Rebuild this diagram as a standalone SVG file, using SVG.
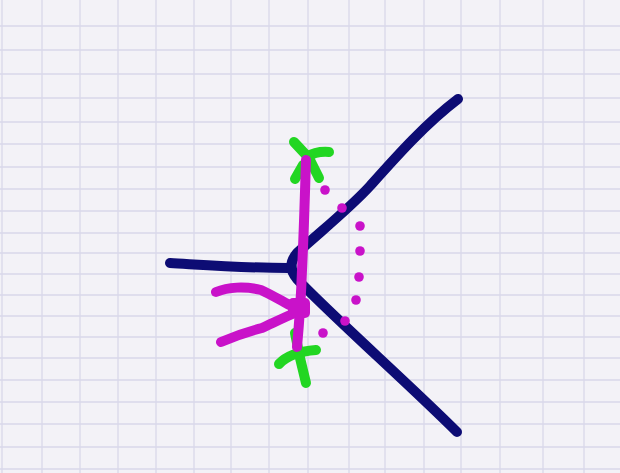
<svg xmlns="http://www.w3.org/2000/svg" width="620" height="473" viewBox="0 0 620 473">
<style>
.grid{stroke:#d9d8ea;stroke-width:1.3;fill:none}
.ink{fill:none;stroke-linecap:round;stroke-linejoin:round}
.navy{stroke:#0d0c74;stroke-width:10}
.green{stroke:#22d622;stroke-width:10}
.mag{stroke:#c912c9;stroke-width:10}
.dot{fill:#c912c9}
</style>
<rect width="620" height="473" fill="#f3f2f7"/>
<g id="grid" class="grid">
<path d="M2,0V473M42,0V473M80,0V473M118,0V473M156,0V473M194,0V473M231,0V473M269,0V473M308,0V473M349,0V473M385,0V473M424,0V473M461,0V473M500,0V473M543,0V473M584,0V473"/>
<path d="M0,26H620M0,50H620M0,74H620M0,98H620M0,122H620M0,144H620M0,167H620M0,189H620M0,211H620M0,233H620M0,253H620M0,274H620M0,295H620M0,316H620M0,337H620M0,358H620M0,380H620M0,402H620M0,424H620M0,447H620M0,469H620"/>
</g>
<g id="navy" class="ink navy">
<path d="M170,263 C205,265 245,268 288,268"/>
<path d="M458,99 C425,124 395,158 370,186 C350,208 320,232 297,253 Q286,266 297,279 C330,314 410,385 457,432"/>
</g>
<g id="green" class="ink green">
<path d="M294,142 L308,157"/>
<path d="M307,157 Q316,151 329,152"/>
<path d="M310,160 L319,178"/>
<path d="M303,165 L295,179"/>
<path d="M279,364 Q290,352 316,350"/>
<path d="M295,333 L300,358 L306,383"/>
</g>
<g id="magenta" class="ink mag">
<path d="M306,160 C305,190 304,230 302,270 C301,300 299,325 297,347"/>
<path d="M216,292 C228,287 245,286 261,290 C270,294 280,300 293,307"/>
<path d="M221,342 C235,336 250,331 262,328 C275,322 285,317 297,312"/>
<rect x="288" y="298" width="22" height="20" rx="5" fill="#c912c9" stroke="none"/>
</g>
<g id="dots" class="dot">
<circle cx="325" cy="190" r="4.8"/>
<circle cx="342" cy="208" r="4.8"/>
<circle cx="360" cy="226" r="4.8"/>
<circle cx="360" cy="251" r="4.8"/>
<circle cx="359" cy="277" r="4.8"/>
<circle cx="356" cy="300" r="4.8"/>
<circle cx="345" cy="321" r="4.8"/>
<circle cx="323" cy="333" r="4.8"/>
</g>
</svg>
